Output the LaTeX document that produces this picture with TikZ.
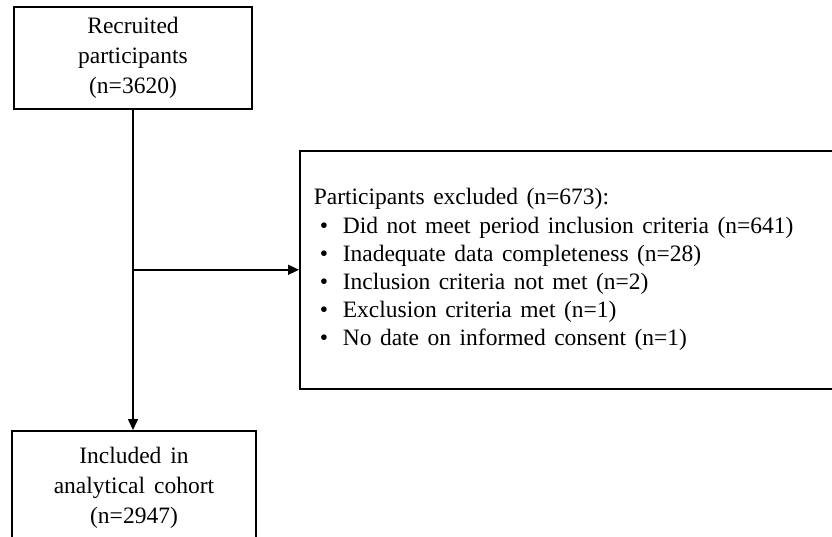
\documentclass[tikz,border=0pt]{standalone}
\usepackage{fontspec}
\setmainfont{Liberation Serif}
\usetikzlibrary{arrows.meta}
\newcommand{\widesp}{\spaceskip=9pt plus 1pt\relax}
\begin{document}
\begin{tikzpicture}[x=1pt,y=-1pt,
  box/.style={draw, line width=1.6pt, align=center, font=\fontsize{23.5}{30}\selectfont},
  conn/.style={line width=1.6pt, -{Triangle[length=11pt,width=10pt]}}]
\useasboundingbox (0,0) rectangle (832,537);
\clip (0,0) rectangle (832,537);
\node[box, minimum width=238pt, minimum height=102pt] (rec) at (133,58) {Recruited\\participants\\(n=3620)};
\node[box, minimum width=244pt, minimum height=114pt, anchor=north] (inc) at (134,430) {\widesp Included in\\\widesp analytical cohort\\(n=2947)};
\node[box, anchor=north west, minimum width=560pt, minimum height=238pt, text width=532pt, inner xsep=14pt, align=left, font=\fontsize{23.5}{28.2}\selectfont] (exc) at (299,150)
 {\spaceskip=8.5pt plus 1pt\relax Participants excluded (n=673):\\
  \makebox[29pt][l]{\hspace{6pt}\textbullet}Did not meet period inclusion criteria (n=641)\\
  \makebox[29pt][l]{\hspace{6pt}\textbullet}Inadequate data completeness (n=28)\\
  \makebox[29pt][l]{\hspace{6pt}\textbullet}Inclusion criteria not met (n=2)\\
  \makebox[29pt][l]{\hspace{6pt}\textbullet}Exclusion criteria met (n=1)\\
  \makebox[29pt][l]{\hspace{6pt}\textbullet}No date on informed consent (n=1)};
\draw[conn] (rec.south) -- (rec.south |- inc.north);
\draw[conn] (rec.south |- exc.west) -- (exc.west);
\end{tikzpicture}
\end{document}
